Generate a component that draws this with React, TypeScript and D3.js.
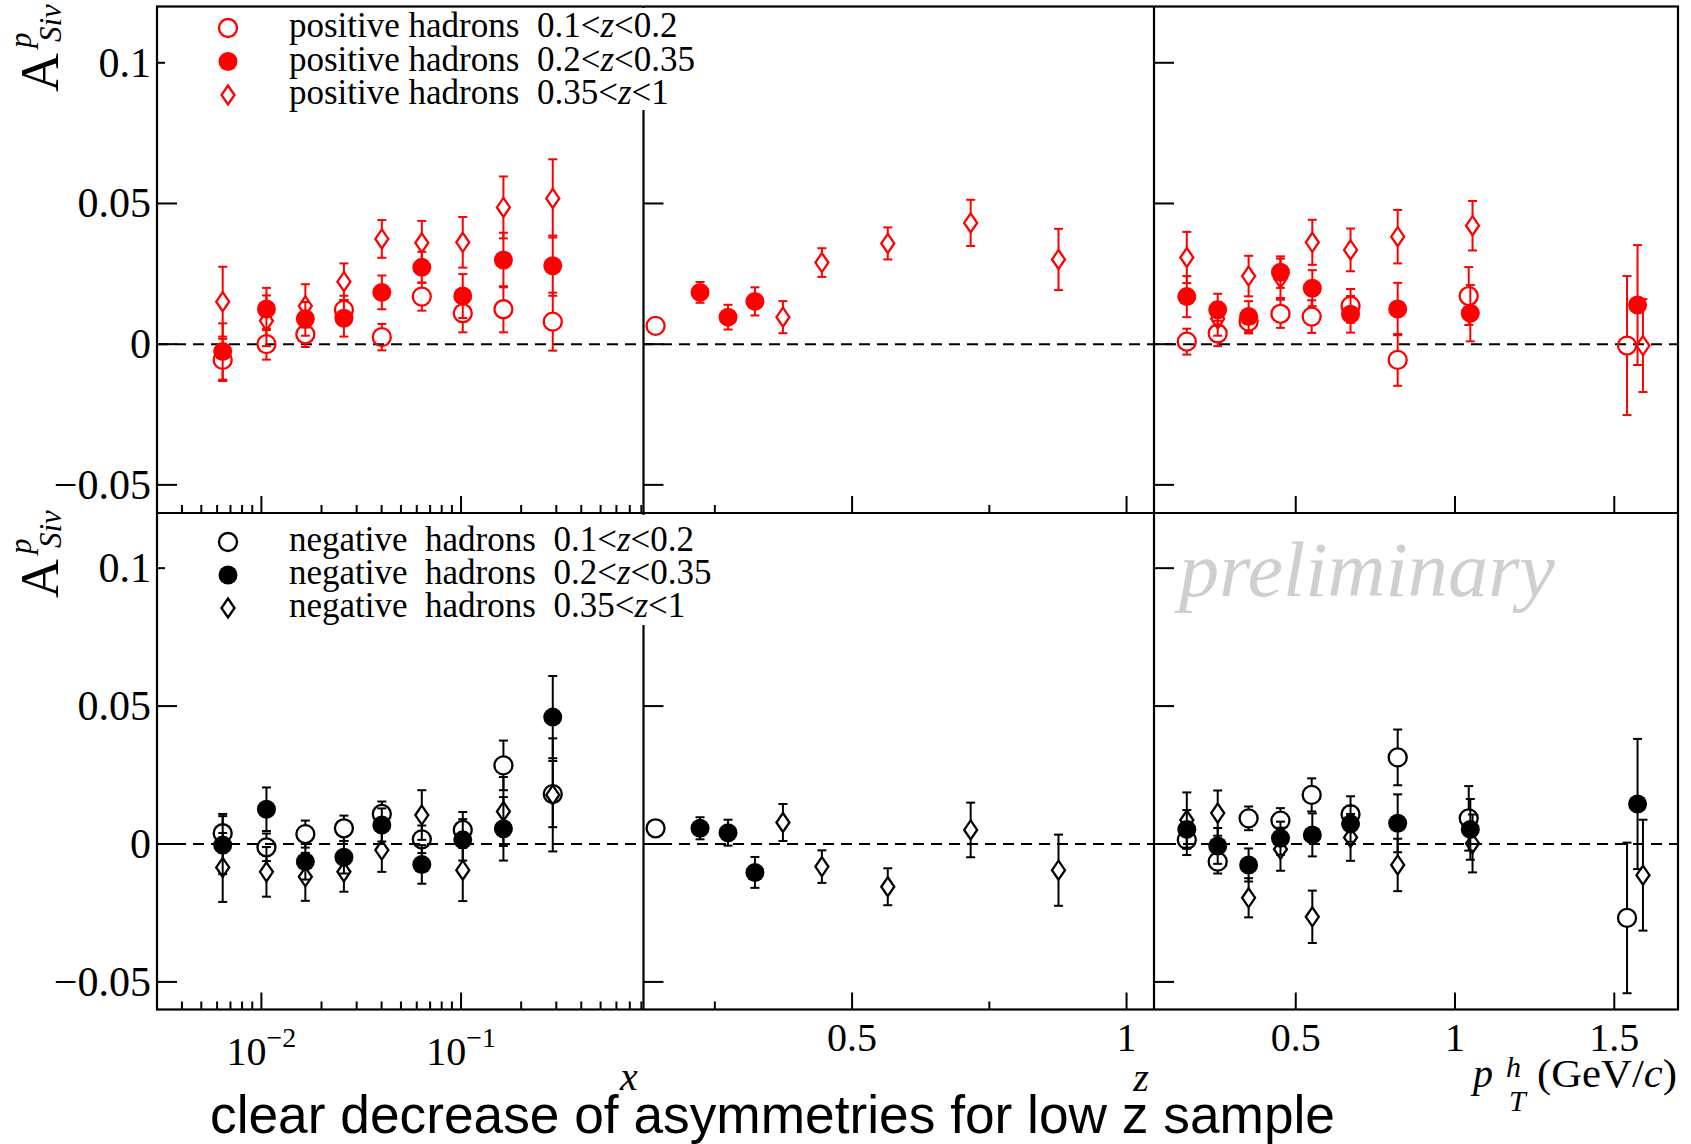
import React from "react";
import * as d3 from "d3";

const width = 1691;
const height = 1144;
const edge = { left: 157, split1: 643.5, split2: 1154, right: 1678, top: 6.5, mid: 513, bottom: 1009.5 };
const red = "#ff0000";
const black = "#000000";
const serif = "'Liberation Serif', 'Times New Roman', serif";
const sans = "'Liberation Sans', Arial, sans-serif";

// bin centres
const xBins = [0.0064, 0.0106, 0.0166, 0.0259, 0.0401, 0.0636, 0.102, 0.163, 0.288];
const zBinsLow = [0.142];
const zBinsMid = [0.223, 0.274, 0.323];
const zBinsHigh = [0.374, 0.445, 0.565, 0.716, 0.876];
const ptBinsLow = [0.158, 0.255, 0.352, 0.452, 0.55, 0.672, 0.82, 1.043, 1.54];
const ptBinsMid = [0.158, 0.255, 0.352, 0.452, 0.552, 0.672, 0.82, 1.048, 1.573];
const ptBinsHigh = [0.158, 0.255, 0.352, 0.452, 0.552, 0.672, 0.82, 1.055, 1.59];

// positive hadrons vs x
const posXLow = [-0.0056, 0.0, 0.0035, 0.0122, 0.0025, 0.0169, 0.011, 0.0124, 0.008];
const posXLowErr = [0.0075, 0.0055, 0.0045, 0.005, 0.0047, 0.005, 0.0068, 0.0082, 0.0103];
const posXMid = [-0.0026, 0.0125, 0.009, 0.0092, 0.0184, 0.0273, 0.0171, 0.0299, 0.0279];
const posXMidErr = [0.01, 0.0075, 0.006, 0.0065, 0.006, 0.0055, 0.0078, 0.0097, 0.0107];
const posXHigh = [0.0151, 0.0083, 0.0136, 0.0222, 0.0374, 0.036, 0.0362, 0.0486, 0.0518];
const posXHighErr = [0.0124, 0.009, 0.0077, 0.0065, 0.0067, 0.0078, 0.009, 0.011, 0.0139];

// positive hadrons vs z
const posZLow = [0.0065];
const posZLowErr = [0.002];
const posZMid = [0.0184, 0.0096, 0.0152];
const posZMidErr = [0.0037, 0.0044, 0.005];
const posZHigh = [0.0096, 0.029, 0.0358, 0.0431, 0.0301];
const posZHighErr = [0.0057, 0.0051, 0.0057, 0.0082, 0.0109];

// positive hadrons vs pT
const posPtLow = [0.0009, 0.0038, 0.008, 0.0108, 0.0098, 0.0136, -0.0056, 0.0171, -0.0005];
const posPtLowErr = [0.0046, 0.0045, 0.0042, 0.005, 0.0058, 0.006, 0.0092, 0.0103, 0.0247];
const posPtMid = [0.0169, 0.0122, 0.0098, 0.0256, 0.0199, 0.0106, 0.0125, 0.011, 0.0139];
const posPtMidErr = [0.0073, 0.0057, 0.0055, 0.0056, 0.0064, 0.0065, 0.0093, 0.01, 0.0213];
const posPtHigh = [0.0308, 0.009, 0.0242, 0.0234, 0.0362, 0.0335, 0.0382, 0.0421, -0.0005];
const posPtHighErr = [0.0091, 0.006, 0.0072, 0.007, 0.008, 0.0076, 0.0095, 0.0088, 0.0165];

// negative hadrons vs x
const negXLow = [0.0039, -0.0012, 0.0036, 0.0057, 0.0109, 0.0017, 0.0051, 0.0285, 0.0181];
const negXLowErr = [0.007, 0.005, 0.0049, 0.0046, 0.0045, 0.005, 0.0065, 0.009, 0.012];
const negXMid = [-0.0004, 0.0126, -0.0064, -0.0048, 0.0069, -0.0074, 0.0015, 0.0055, 0.046];
const negXMidErr = [0.0105, 0.0079, 0.0065, 0.0059, 0.006, 0.007, 0.0075, 0.0115, 0.0149];
const negXHigh = [-0.0085, -0.0101, -0.0119, -0.0101, -0.0022, 0.0105, -0.0095, 0.0118, 0.0178];
const negXHighErr = [0.0125, 0.009, 0.0087, 0.0072, 0.0079, 0.009, 0.0112, 0.0125, 0.0205];

// negative hadrons vs z
const negZLow = [0.0057];
const negZLowErr = [0.002];
const negZMid = [0.0057, 0.0041, -0.0103];
const negZMidErr = [0.004, 0.0047, 0.0056];
const negZHigh = [0.0078, -0.0082, -0.0155, 0.0051, -0.0095];
const negZHighErr = [0.0067, 0.0059, 0.0067, 0.0099, 0.0129];

// negative hadrons vs pT
const negPtLow = [0.0015, -0.0064, 0.0093, 0.0085, 0.0178, 0.0108, 0.0314, 0.0093, -0.0268];
const negPtLowErr = [0.0055, 0.0043, 0.0043, 0.0045, 0.006, 0.0065, 0.0101, 0.0117, 0.0273];
const negPtMid = [0.0053, -0.0007, -0.0076, 0.0021, 0.0033, 0.0073, 0.0075, 0.0053, 0.0145];
const negPtMidErr = [0.007, 0.0065, 0.006, 0.006, 0.0078, 0.0065, 0.0105, 0.011, 0.0236];
const negPtHigh = [0.0087, 0.0112, -0.0195, -0.0019, -0.0264, 0.0024, -0.0076, 0.0002, -0.0113];
const negPtHighErr = [0.01, 0.0082, 0.0071, 0.0078, 0.0095, 0.0085, 0.0095, 0.0105, 0.0201];

// axes
const yTicks = [-0.05, 0, 0.05, 0.1];
const yTickLabels = ["\u22120.05", "0", "0.05", "0.1"];
const xDecades = [0.01, 0.1];
const xDecadeLabels = ["\u22122", "\u22121"];
const zMajor = [0.5, 1];
const zMajorLabels = ["0.5", "1"];
const zMinor = [0.25, 0.75];
const ptMajor = [0.5, 1, 1.5];
const ptMajorLabels = ["0.5", "1", "1.5"];
const zRanges = [["0.1", "0.2"], ["0.2", "0.35"], ["0.35", "1"]];
const kinds = ["open", "filled", "diamond"];

const xScale = d3.scaleLog().domain([0.003, 0.82]).range([edge.left, edge.split1]);
const zScale = d3.scaleLinear().domain([0.12, 1.05]).range([edge.split1, edge.split2]);
const ptScale = d3.scaleLinear().domain([0.055, 1.7]).range([edge.split2, edge.right]);
const yPos = d3.scaleLinear().domain([-0.06, 0.12]).range([edge.mid, edge.top]);
const yNeg = d3.scaleLinear().domain([-0.06, 0.12]).range([edge.bottom, edge.mid]);

const rows = [
  {
    y: yPos,
    color: red,
    base: edge.mid,
    panels: [
      { sx: xScale, series: [[xBins, posXLow, posXLowErr], [xBins, posXMid, posXMidErr], [xBins, posXHigh, posXHighErr]] },
      { sx: zScale, series: [[zBinsLow, posZLow, posZLowErr], [zBinsMid, posZMid, posZMidErr], [zBinsHigh, posZHigh, posZHighErr]] },
      { sx: ptScale, series: [[ptBinsLow, posPtLow, posPtLowErr], [ptBinsMid, posPtMid, posPtMidErr], [ptBinsHigh, posPtHigh, posPtHighErr]] }
    ]
  },
  {
    y: yNeg,
    color: black,
    base: edge.bottom,
    panels: [
      { sx: xScale, series: [[xBins, negXLow, negXLowErr], [xBins, negXMid, negXMidErr], [xBins, negXHigh, negXHighErr]] },
      { sx: zScale, series: [[zBinsLow, negZLow, negZLowErr], [zBinsMid, negZMid, negZMidErr], [zBinsHigh, negZHigh, negZHighErr]] },
      { sx: ptScale, series: [[ptBinsLow, negPtLow, negPtLowErr], [ptBinsMid, negPtMid, negPtMidErr], [ptBinsHigh, negPtHigh, negPtHighErr]] }
    ]
  }
];

function Marker({ kind, cx, cy, color }: any) {
  if (kind === "open") return <circle cx={cx} cy={cy} r={9} fill="none" stroke={color} strokeWidth={2.3} />;
  if (kind === "filled") return <circle cx={cx} cy={cy} r={9.5} fill={color} />;
  return (
    <path
      d={`M${cx},${cy - 9.5}L${cx + 6.5},${cy}L${cx},${cy + 9.5}L${cx - 6.5},${cy}Z`}
      fill="none"
      stroke={color}
      strokeWidth={2.3}
    />
  );
}

function ErrorBar({ cx, cy, hi, lo, gap, color }: any) {
  const cap = 4.5;
  return (
    <g stroke={color} strokeWidth={2}>
      {hi < cy - gap && (
        <>
          <line x1={cx} x2={cx} y1={hi} y2={cy - gap} />
          <line x1={cx - cap} x2={cx + cap} y1={hi} y2={hi} />
        </>
      )}
      {lo > cy + gap && (
        <>
          <line x1={cx} x2={cx} y1={cy + gap} y2={lo} />
          <line x1={cx - cap} x2={cx + cap} y1={lo} y2={lo} />
        </>
      )}
    </g>
  );
}

function LegendRow({ kind, color, y, prefix, range }: any) {
  return (
    <g>
      <Marker kind={kind} cx={228} cy={y} color={color} />
      <text x={289} y={y + 9} fontFamily={serif} fontSize={35} fill={black} style={{ whiteSpace: "pre" }}>
        {prefix}
        {range[0]}
        {"<"}
        <tspan fontStyle="italic">z</tspan>
        {"<"}
        {range[1]}
      </text>
    </g>
  );
}

function YLabel({ x, y }: any) {
  return (
    <g transform={`translate(${x},${y}) rotate(-90)`} fontFamily={serif} fill={black}>
      <text x={0} y={0} fontSize={54}>A</text>
      <text x={44} y={-27} fontSize={31} fontStyle="italic">p</text>
      <text x={50} y={3} fontSize={31} fontStyle="italic">Siv</text>
    </g>
  );
}

export default function App() {
  const leftEdges = [edge.left, edge.split1, edge.split2];
  const logTicks = xScale.ticks();
  const gapOf: any = { open: 9, filled: 0, diamond: 9.5 };

  return (
    <svg width={width} height={height} style={{ position: "absolute", left: 0, top: 0 }}>
      <rect width={width} height={height} fill="#fff" />

      {/* panel dividers */}
      <g stroke={black} strokeWidth={2.2}>
        <line x1={edge.split1} x2={edge.split1} y1={edge.top} y2={edge.bottom} />
        <line x1={edge.split2} x2={edge.split2} y1={edge.top} y2={edge.bottom} />
      </g>

      {/* ticks */}
      {rows.map((row, ri) => (
        <g key={"t" + ri} stroke={black} strokeWidth={2}>
          {leftEdges.map((lx) =>
            yTicks.map((t) => <line key={lx + "-" + t} x1={lx} x2={lx + 20} y1={row.y(t)} y2={row.y(t)} />)
          )}
          {logTicks.map((t) => {
            const major = xDecades.some((d) => Math.abs(d - t) < 1e-9);
            return <line key={"l" + t} x1={xScale(t)} x2={xScale(t)} y1={row.base} y2={row.base - (major ? 17 : 8)} />;
          })}
          {zMajor.map((t) => <line key={"zM" + t} x1={zScale(t)} x2={zScale(t)} y1={row.base} y2={row.base - 17} />)}
          {zMinor.map((t) => <line key={"zm" + t} x1={zScale(t)} x2={zScale(t)} y1={row.base} y2={row.base - 8} />)}
          {ptMajor.map((t) => <line key={"p" + t} x1={ptScale(t)} x2={ptScale(t)} y1={row.base} y2={row.base - 17} />)}
        </g>
      ))}

      {/* legend backgrounds */}
      <rect x={165} y={8} width={527} height={102} fill="#fff" />
      <rect x={165} y={515} width={539} height={110} fill="#fff" />

      {/* frame */}
      <rect
        x={edge.left}
        y={edge.top}
        width={edge.right - edge.left}
        height={edge.bottom - edge.top}
        fill="none"
        stroke={black}
        strokeWidth={2.2}
      />
      <line x1={edge.left} x2={edge.right} y1={edge.mid} y2={edge.mid} stroke={black} strokeWidth={2.2} />

      {/* zero lines */}
      {rows.map((row, ri) => (
        <line
          key={"z" + ri}
          x1={edge.left}
          x2={edge.right}
          y1={row.y(0)}
          y2={row.y(0)}
          stroke={black}
          strokeWidth={2}
          strokeDasharray="11,7"
        />
      ))}

      <text x={1179} y={596} fontFamily={serif} fontStyle="italic" fontSize={78} fill="#cfcfcf" textLength={376} lengthAdjust="spacingAndGlyphs">
        preliminary
      </text>

      {/* data */}
      {rows.map((row, ri) =>
        row.panels.map((p, pi) =>
          p.series.map((s: any, si) => {
            const kind = kinds[si];
            const [xs, vs, es] = s;
            return (
              <g key={`${ri}-${pi}-${si}`}>
                {vs.map((v: number, i: number) => {
                  const cx = p.sx(xs[i]);
                  const cy = row.y(v);
                  return (
                    <g key={i}>
                      <ErrorBar cx={cx} cy={cy} hi={row.y(v + es[i])} lo={row.y(v - es[i])} gap={gapOf[kind]} color={row.color} />
                      <Marker kind={kind} cx={cx} cy={cy} color={row.color} />
                    </g>
                  );
                })}
              </g>
            );
          })
        )
      )}

      {/* legends */}
      {kinds.map((k, i) => (
        <LegendRow key={"pl" + i} kind={k} color={red} y={28 + i * 33.5} prefix={"positive hadrons  "} range={zRanges[i]} />
      ))}
      {kinds.map((k, i) => (
        <LegendRow key={"nl" + i} kind={k} color={black} y={542 + i * 33} prefix={"negative  hadrons  "} range={zRanges[i]} />
      ))}

      {/* y tick labels */}
      <g fontFamily={serif} fontSize={42} fill={black} textAnchor="end">
        {rows.map((row, ri) =>
          yTicks.map((t, i) => (
            <text key={ri + "-" + i} x={151} y={row.y(t) + 14}>
              {yTickLabels[i]}
            </text>
          ))
        )}
      </g>

      <YLabel x={58} y={92} />
      <YLabel x={58} y={598} />

      {/* x tick labels */}
      <g fontFamily={serif} fontSize={40} fill={black} textAnchor="middle">
        {xDecades.map((t, i) => (
          <text key={"d" + i} x={xScale(t)} y={1065}>
            10
            <tspan dy={-18} fontSize={28}>
              {xDecadeLabels[i]}
            </tspan>
          </text>
        ))}
        {zMajor.map((t, i) => (
          <text key={"zl" + i} x={zScale(t)} y={1051}>
            {zMajorLabels[i]}
          </text>
        ))}
        {ptMajor.map((t, i) => (
          <text key={"pl" + i} x={ptScale(t)} y={1051}>
            {ptMajorLabels[i]}
          </text>
        ))}
      </g>

      {/* axis titles */}
      <g fontFamily={serif} fill={black} fontStyle="italic">
        <text x={629} y={1090} fontSize={40} textAnchor="middle">x</text>
        <text x={1141} y={1091} fontSize={40} textAnchor="middle">z</text>
        <text x={1473} y={1087} fontSize={40}>p</text>
        <text x={1506} y={1077} fontSize={30}>h</text>
        <text x={1509} y={1111} fontSize={30}>T</text>
      </g>
      <text x={1537} y={1087} fontFamily={serif} fontSize={40} fill={black} textLength={140} lengthAdjust="spacingAndGlyphs">
        (GeV/<tspan fontStyle="italic">c</tspan>)
      </text>

      <text x={210} y={1133} fontFamily={sans} fontSize={54} fill={black} textLength={1125} lengthAdjust="spacingAndGlyphs">
        clear decrease of asymmetries for low z sample
      </text>
    </svg>
  );
}
